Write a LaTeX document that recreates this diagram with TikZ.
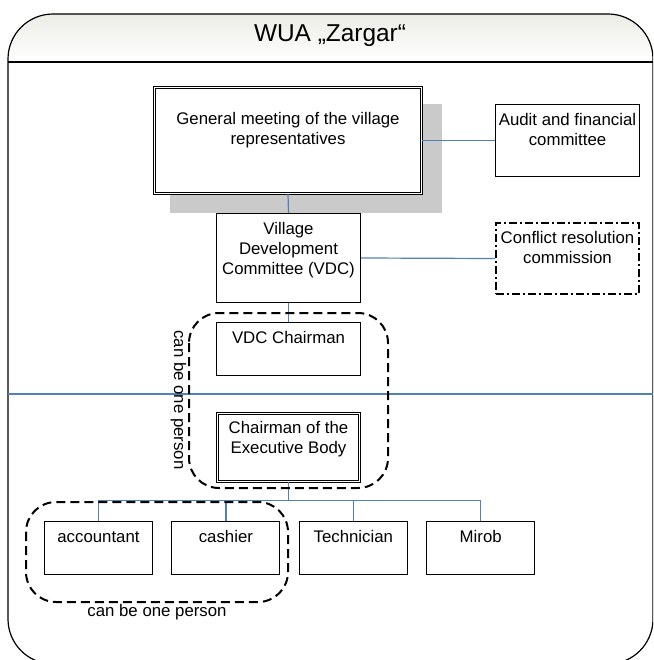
\documentclass[tikz,border=0pt]{standalone}
\usepackage{fontspec}
\setmainfont{Liberation Sans}
\usepackage{tikz}
\usetikzlibrary{positioning}
\definecolor{linkblue}{RGB}{79,129,189}
\definecolor{bartop}{RGB}{236,236,230}
\definecolor{shadowgray}{RGB}{202,202,202}

\begin{document}
\begin{tikzpicture}[
  x = 1pt, y = -1pt,
  every node/.style = {font = \fontsize{16.8}{20}\selectfont},
  unit/.style = {draw, line width = 1.1pt, fill = white, inner sep = 0pt},
  twoline/.style = {unit, double, double distance = 1.5pt, line width = .9pt},
  dashdot/.style = {unit, line width = 2pt, dash pattern = on 8pt off 3pt on 2pt off 3pt},
  inside/.style = {anchor = north, align = center, inner sep = 0pt, yshift = -#1},
  inside/.default = 9.5pt,
  link/.style = {draw = linkblue, line width = 1.2pt},
  group/.style = {draw, line width = 2pt, dash pattern = on 9pt off 5pt, rounded corners = 30pt},
  node distance = 18.3pt
]
\useasboundingbox (0,0) rectangle (653,660);
\clip (0,0) rectangle (653,660);

% frame with title bar
\begin{scope}
  \clip[rounded corners = 45pt] (8,14) rectangle (653,664);
  \shade[top color = bartop, bottom color = white] (8,14) rectangle (653,62);
\end{scope}
\draw[line width = 1.2pt, rounded corners = 45pt] (8,14) rectangle (653,664);
\draw[line width = 1.2pt] (8,62) -- (653,62);
\node[font = \fontsize{24.4}{28}\selectfont, anchor = base] (title) at (330,42) {WUA „Zargar“};

% shadow of the general meeting
\fill[shadowgray] (170,104) rectangle (442,213);

\node[twoline, minimum width = 266.7pt, minimum height = 105.7pt,
  label = {[inside = 25.4pt]north:{General meeting of the village\\representatives}}] (meeting) at (288,140.5) {};
\node[unit, minimum width = 144pt, minimum height = 72pt,
  label = {[inside]north:{Audit and financial\\committee}}] (audit) at (567.5,140.5) {};
\node[unit, minimum width = 144pt, minimum height = 89pt,
  label = {[inside]north:{Village\\Development\\Committee (VDC)}}] (vdc) at (288.5,258) {};
\node[dashdot, minimum width = 143pt, minimum height = 71pt,
  label = {[inside = 9pt]north:{Conflict resolution\\commission}}] (conflict) at (567.5,258.5) {};
\node[unit, minimum width = 144pt, minimum height = 53pt,
  label = {[inside]north:{VDC Chairman}}] (vdcchair) at (288.5,349) {};
\node[twoline, minimum width = 141.7pt, minimum height = 67.7pt,
  label = {[inside = 8.4pt]north:{Chairman of the\\Executive Body}}] (chairman) at (288.5,447.5) {};

% executive staff
\node[unit, minimum width = 108pt, minimum height = 53pt,
  label = {[inside, text height = 12.2pt]north:accountant}] (acct) at (98.5,548) {};
\node[unit, minimum width = 108pt, minimum height = 53pt,
  label = {[inside]north:cashier}, right = of acct] (cash) {};
\node[unit, minimum width = 108pt, minimum height = 53pt,
  label = {[inside]north:Technician}, right = of cash] (tech) {};
\node[unit, minimum width = 108pt, minimum height = 53pt,
  label = {[inside]north:Mirob}, right = of tech] (mirob) {};

% links
\draw[link] (meeting.east) -- (audit.west);
\draw[link] (meeting.south) -- (vdc.north);
\draw[link] (vdc.east) -- (conflict.west);
\draw[link] (vdc.south) -- (vdcchair.north);
\coordinate (split west) at (8,394);
\coordinate (split east) at (653,394);
\draw[link] (split west) -- (split east);
\draw[link] (chairman.south) -- ++(0,19) coordinate (bus);
\foreach \post in {acct, cash, tech, mirob}
  \draw[link] (bus) -| (\post.north);

% can be one person
\draw[group] (189,313) rectangle (388,488);
\node[rotate = -90] (onechair) at (178.5,400) {can be one person};
\draw[group] (26,502) rectangle (288,602);
\node (onecash) at (157,612.5) {can be one person};
\end{tikzpicture}
\end{document}
